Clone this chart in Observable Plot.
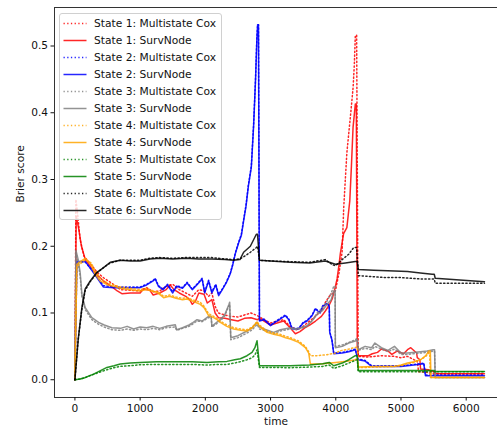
<!DOCTYPE html>
<html>
<head>
<meta charset="utf-8">
<script src="https://cdn.jsdelivr.net/npm/d3@7"></script>
<script src="https://cdn.jsdelivr.net/npm/@observablehq/plot@0.6"></script>
<style>
  body { margin: 0; background: white; }
  #wrap { position: relative; width: 497px; height: 428px; overflow: hidden; font-family: "DejaVu Sans", sans-serif; }
  #legend { position: absolute; left: 59px; top: 13px; width: 163px; height: 207px; box-sizing: border-box;
            border: 1px solid #d0d0d0; border-radius: 3px; background: rgba(255,255,255,0.8); }
  .row { position: absolute; left: 0; height: 17px; width: 160px; }
  .row svg { position: absolute; left: 2px; top: 0; }
  .row span { position: absolute; left: 34px; top: 0; line-height: 17px; font-size: 10.7px; color: #111; white-space: nowrap; }
</style>
</head>
<body>
<div id="wrap"></div>
<script>
// ---- data (time, Brier score) ----
const s1Cox = [[0,0],[15,0.27],[40,0.25],[80,0.21],[140,0.185],[250,0.172],[350,0.16],[450,0.152],[560,0.145],[700,0.135],[850,0.134],[1000,0.133],[1100,0.138],[1200,0.132],[1300,0.133],[1400,0.14],[1500,0.143],[1600,0.135],[1700,0.13],[1800,0.125],[1850,0.13],[1900,0.135],[1980,0.133],[2050,0.125],[2100,0.13],[2150,0.11],[2200,0.1],[2300,0.097],[2400,0.095],[2500,0.094],[2600,0.097],[2700,0.1],[2800,0.096],[2900,0.09],[3000,0.085],[3100,0.088],[3200,0.09],[3300,0.08],[3400,0.075],[3500,0.08],[3600,0.088],[3700,0.096],[3800,0.106],[3840,0.116],[3900,0.125],[3994,0.133],[4050,0.16],[4097,0.191],[4122,0.258],[4170,0.34],[4230,0.4],[4266,0.438],[4285,0.473],[4300,0.516],[4320,0.516],[4335,0.22],[4345,0.035],[4500,0.034],[4700,0.036],[4900,0.035],[5000,0.033],[5100,0.035],[5200,0.03],[5250,0.028],[5270,0.012],[5400,0.011],[5500,0.009],[6280,0.009]];
const s1Surv = [[0,0],[20,0.245],[60,0.225],[100,0.2],[160,0.18],[250,0.168],[330,0.158],[450,0.147],[560,0.14],[650,0.133],[720,0.129],[850,0.13],[1000,0.13],[1050,0.136],[1150,0.134],[1200,0.127],[1300,0.13],[1400,0.135],[1460,0.142],[1520,0.135],[1600,0.13],[1700,0.125],[1760,0.12],[1800,0.113],[1850,0.118],[1900,0.13],[1980,0.128],[2030,0.115],[2100,0.12],[2150,0.1],[2200,0.093],[2300,0.092],[2400,0.09],[2500,0.088],[2600,0.092],[2700,0.093],[2800,0.09],[2830,0.092],[2900,0.088],[3000,0.082],[3100,0.085],[3200,0.088],[3300,0.078],[3380,0.069],[3450,0.072],[3530,0.078],[3600,0.082],[3690,0.088],[3780,0.095],[3840,0.103],[3900,0.112],[3945,0.121],[3990,0.138],[4020,0.151],[4050,0.172],[4070,0.189],[4120,0.219],[4170,0.228],[4215,0.268],[4240,0.32],[4265,0.378],[4300,0.413],[4315,0.413],[4330,0.05],[4345,0.036],[4500,0.036],[4560,0.039],[4640,0.041],[4700,0.046],[4800,0.043],[4860,0.038],[4940,0.043],[5040,0.039],[5100,0.045],[5150,0.048],[5240,0.04],[5250,0.033],[5290,0.03],[5300,0.016],[5420,0.015],[5500,0.012],[5550,0.009],[6280,0.009]];
const s2Cox = [[0,0],[30,0.176],[160,0.176],[250,0.166],[337,0.155],[437,0.141],[600,0.139],[800,0.139],[1000,0.139],[1100,0.143],[1200,0.149],[1232,0.152],[1280,0.141],[1350,0.136],[1420,0.143],[1500,0.132],[1560,0.141],[1650,0.138],[1720,0.146],[1800,0.136],[1880,0.144],[1950,0.152],[1990,0.132],[2050,0.149],[2100,0.132],[2160,0.143],[2204,0.128],[2260,0.136],[2320,0.146],[2383,0.16],[2420,0.173],[2460,0.19],[2510,0.206],[2552,0.218],[2587,0.24],[2624,0.262],[2660,0.292],[2705,0.32],[2740,0.382],[2770,0.452],[2790,0.512],[2802,0.532],[2815,0.532],[2830,0.089],[2900,0.091],[3000,0.082],[3100,0.089],[3227,0.097],[3280,0.091],[3330,0.077],[3430,0.077],[3500,0.086],[3560,0.089],[3637,0.097],[3687,0.107],[3760,0.101],[3800,0.111],[3866,0.115],[3900,0.111],[3907,0.072],[3940,0.061],[3969,0.04],[4100,0.041],[4200,0.043],[4300,0.046],[4340,0.031],[4450,0.029],[4550,0.021],[4800,0.021],[5000,0.021],[5200,0.023],[5350,0.025],[5375,0.007],[6280,0.007]];
const s2Surv = [[0,0],[30,0.177],[160,0.177],[250,0.165],[337,0.153],[437,0.139],[600,0.138],[800,0.138],[1000,0.138],[1100,0.142],[1200,0.148],[1232,0.151],[1280,0.14],[1350,0.135],[1420,0.142],[1500,0.13],[1560,0.14],[1650,0.137],[1720,0.145],[1800,0.135],[1880,0.143],[1950,0.151],[1990,0.13],[2050,0.148],[2100,0.13],[2160,0.142],[2204,0.126],[2260,0.135],[2320,0.145],[2383,0.159],[2420,0.172],[2460,0.189],[2510,0.205],[2552,0.216],[2587,0.238],[2624,0.26],[2660,0.29],[2705,0.318],[2740,0.38],[2770,0.45],[2790,0.51],[2802,0.532],[2815,0.532],[2830,0.088],[2900,0.09],[3000,0.081],[3100,0.088],[3227,0.096],[3280,0.09],[3330,0.076],[3430,0.076],[3500,0.085],[3560,0.088],[3637,0.096],[3687,0.106],[3760,0.1],[3800,0.11],[3866,0.114],[3900,0.11],[3907,0.071],[3940,0.06],[3969,0.039],[4100,0.04],[4200,0.042],[4300,0.045],[4340,0.03],[4450,0.028],[4550,0.02],[4800,0.02],[5000,0.02],[5200,0.022],[5350,0.024],[5375,0.006],[6280,0.006]];
const s3Cox = [[0,0],[15,0.19],[50,0.175],[81,0.155],[107,0.125],[158,0.105],[260,0.09],[363,0.083],[450,0.079],[567,0.075],[700,0.074],[800,0.076],[900,0.074],[1000,0.076],[1100,0.075],[1200,0.077],[1300,0.075],[1400,0.078],[1539,0.079],[1560,0.074],[1650,0.077],[1750,0.08],[1800,0.083],[1872,0.088],[1950,0.087],[2050,0.093],[2090,0.094],[2100,0.079],[2160,0.083],[2250,0.09],[2300,0.096],[2363,0.111],[2373,0.113],[2390,0.06],[2500,0.063],[2640,0.07],[2720,0.075],[2793,0.083],[2830,0.076],[2900,0.074],[3048,0.069],[3150,0.073],[3304,0.076],[3400,0.075],[3560,0.08],[3650,0.09],[3713,0.1],[3800,0.108],[3867,0.118],[3930,0.13],[3969,0.14],[3990,0.14],[3994,0.05],[4100,0.052],[4200,0.056],[4300,0.06],[4330,0.062],[4345,0.044],[4450,0.047],[4550,0.045],[4600,0.05],[4700,0.046],[4800,0.042],[4900,0.046],[5000,0.038],[5100,0.038],[5300,0.04],[5400,0.041],[5493,0.043],[5515,0.043],[5525,0.0035],[6280,0.0035]];
const s3Surv = [[0,0],[15,0.194],[50,0.18],[81,0.16],[107,0.128],[158,0.108],[260,0.093],[363,0.086],[450,0.082],[567,0.078],[700,0.077],[800,0.08],[900,0.076],[1000,0.079],[1100,0.078],[1200,0.08],[1300,0.077],[1400,0.08],[1539,0.0825],[1560,0.075],[1650,0.078],[1750,0.082],[1800,0.085],[1872,0.09],[1950,0.088],[2050,0.095],[2090,0.095],[2100,0.08],[2160,0.085],[2250,0.092],[2300,0.098],[2363,0.113],[2373,0.116],[2390,0.063],[2500,0.066],[2640,0.073],[2720,0.078],[2793,0.086],[2830,0.079],[2900,0.076],[3048,0.071],[3150,0.075],[3304,0.078],[3400,0.076],[3560,0.081],[3650,0.09],[3713,0.098],[3800,0.104],[3867,0.113],[3930,0.12],[3969,0.133],[3990,0.133],[3994,0.048],[4100,0.05],[4200,0.055],[4300,0.058],[4330,0.06],[4345,0.045],[4450,0.05],[4550,0.048],[4600,0.055],[4700,0.048],[4800,0.044],[4900,0.05],[5000,0.04],[5100,0.04],[5300,0.042],[5400,0.043],[5493,0.045],[5515,0.045],[5525,0.0035],[6280,0.0035]];
const s4Cox = [[0,0],[30,0.17],[100,0.175],[158,0.18],[250,0.175],[300,0.165],[388,0.152],[500,0.145],[600,0.142],[697,0.139],[850,0.137],[1000,0.135],[1100,0.137],[1200,0.133],[1258,0.132],[1300,0.13],[1360,0.125],[1450,0.127],[1550,0.124],[1650,0.122],[1718,0.123],[1800,0.12],[1923,0.116],[1980,0.11],[2050,0.099],[2127,0.095],[2180,0.092],[2230,0.088],[2330,0.082],[2434,0.078],[2540,0.076],[2640,0.075],[2720,0.079],[2793,0.087],[2830,0.082],[2946,0.073],[3048,0.07],[3150,0.068],[3230,0.065],[3304,0.063],[3431,0.058],[3534,0.05],[3585,0.042],[3611,0.036],[3700,0.036],[3867,0.0375],[4000,0.04],[4071,0.0435],[4200,0.046],[4275,0.048],[4330,0.049],[4345,0.018],[4600,0.019],[4900,0.02],[5000,0.021],[5100,0.024],[5200,0.026],[5300,0.03],[5380,0.035],[5426,0.04],[5440,0.04],[5450,0.0035],[6280,0.0035]];
const s4Surv = [[0,0],[30,0.173],[100,0.178],[158,0.182],[250,0.172],[300,0.16],[388,0.148],[500,0.142],[600,0.14],[697,0.137],[850,0.135],[1000,0.133],[1100,0.135],[1200,0.132],[1258,0.131],[1300,0.128],[1360,0.123],[1450,0.125],[1550,0.122],[1650,0.12],[1718,0.121],[1800,0.118],[1923,0.113],[1980,0.108],[2050,0.096],[2127,0.093],[2180,0.09],[2230,0.086],[2330,0.08],[2434,0.076],[2540,0.074],[2640,0.073],[2720,0.078],[2793,0.086],[2830,0.08],[2946,0.071],[3048,0.068],[3150,0.066],[3230,0.063],[3304,0.061],[3431,0.056],[3534,0.048],[3585,0.04],[3611,0.0235],[3800,0.024],[4000,0.026],[4200,0.028],[4300,0.03],[4330,0.032],[4345,0.019],[4600,0.02],[4900,0.02],[5000,0.022],[5100,0.025],[5200,0.027],[5300,0.03],[5380,0.036],[5426,0.043],[5450,0.043],[5460,0.0035],[6280,0.0035]];
const s5Cox = [[0,0],[81,0.001],[150,0.003],[200,0.005],[286,0.008],[400,0.012],[491,0.015],[600,0.018],[695,0.02],[850,0.021],[1000,0.0225],[1250,0.023],[1513,0.023],[1800,0.023],[2025,0.022],[2200,0.023],[2332,0.023],[2450,0.025],[2537,0.027],[2639,0.03],[2716,0.033],[2760,0.037],[2793,0.045],[2830,0.0185],[3000,0.0185],[3300,0.018],[3600,0.019],[3800,0.02],[3900,0.022],[3969,0.017],[4100,0.021],[4200,0.025],[4300,0.029],[4330,0.03],[4345,0.012],[5000,0.012],[5500,0.012],[6280,0.012]];
const s5Surv = [[0,0],[81,0.001],[150,0.003],[200,0.005],[286,0.0085],[400,0.014],[491,0.0185],[600,0.021],[695,0.0235],[850,0.025],[1000,0.026],[1250,0.027],[1513,0.027],[1800,0.027],[2025,0.026],[2200,0.027],[2332,0.0275],[2450,0.03],[2537,0.0315],[2639,0.036],[2716,0.041],[2760,0.048],[2793,0.0585],[2830,0.021],[3000,0.021],[3300,0.021],[3600,0.022],[3800,0.024],[3900,0.026],[3969,0.021],[4100,0.025],[4200,0.03],[4300,0.036],[4330,0.036],[4345,0.014],[5000,0.014],[5500,0.014],[5525,0.0125],[6280,0.0125]];
const s6Cox = [[0,0],[50,0.06],[107,0.106],[158,0.134],[235,0.147],[337,0.16],[439,0.168],[542,0.175],[695,0.179],[850,0.179],[1000,0.179],[1150,0.182],[1300,0.183],[1500,0.182],[1700,0.183],[1900,0.183],[2100,0.183],[2300,0.181],[2434,0.18],[2530,0.181],[2600,0.185],[2690,0.191],[2782,0.198],[2800,0.2],[2830,0.179],[3000,0.178],[3300,0.177],[3600,0.176],[3841,0.18],[3950,0.172],[4000,0.171],[4097,0.18],[4198,0.188],[4275,0.198],[4320,0.198],[4345,0.156],[4761,0.153],[5000,0.153],[5298,0.151],[5478,0.151],[5510,0.151],[5525,0.1445],[6280,0.1445]];
const s6Surv = [[0,0],[50,0.06],[107,0.108],[158,0.136],[235,0.148],[337,0.161],[439,0.168],[542,0.176],[695,0.179],[850,0.178],[1000,0.178],[1150,0.181],[1300,0.182],[1500,0.181],[1700,0.182],[1900,0.181],[2100,0.181],[2300,0.18],[2434,0.179],[2530,0.18],[2587,0.191],[2690,0.2],[2782,0.218],[2800,0.218],[2830,0.179],[3000,0.178],[3300,0.176],[3600,0.175],[3841,0.178],[3994,0.173],[4148,0.175],[4300,0.177],[4330,0.177],[4345,0.165],[4582,0.164],[4900,0.163],[5100,0.162],[5298,0.16],[5478,0.158],[5510,0.158],[5525,0.152],[6280,0.147]];

const seriesNames = ["State 1: Multistate Cox","State 1: SurvNode","State 2: Multistate Cox","State 2: SurvNode","State 3: Multistate Cox","State 3: SurvNode","State 4: Multistate Cox","State 4: SurvNode","State 5: Multistate Cox","State 5: SurvNode","State 6: Multistate Cox","State 6: SurvNode"];
const seriesData = [s1Cox, s1Surv, s2Cox, s2Surv, s3Cox, s3Surv, s4Cox, s4Surv, s5Cox, s5Surv, s6Cox, s6Surv];
const stateColors = ["#ff0000","#0000ff","#808080","#ffa500","#008000","#000000"];
const xTicks = [0, 1000, 2000, 3000, 4000, 5000, 6000];
const yTicks = [0.0, 0.1, 0.2, 0.3, 0.4, 0.5];

// ---- build ----
const xDomain = [-313, 6480];
const yDomain = [-0.0266, 0.5577];
const dotted = "1.3,2.4";

const series = seriesNames.map((name, i) => ({
  name,
  color: stateColors[Math.floor(i / 2)],
  dash: i % 2 === 0 ? dotted : null,
  rows: seriesData[i].map(([t, v]) => ({t, v}))
}));

const marks = series.map(s => Plot.line(s.rows, {
  x: "t", y: "v", stroke: s.color, strokeWidth: 1.5, strokeOpacity: 0.85,
  strokeDasharray: s.dash ?? undefined
}));

const chart = Plot.plot({
  width: 497, height: 428,
  marginLeft: 54, marginRight: 0, marginTop: 7, marginBottom: 31,
  style: {fontFamily: "DejaVu Sans", fontSize: "10.6px", color: "#111", background: "white"},
  x: {domain: xDomain},
  y: {domain: yDomain},
  marks: [
    ...marks,
    Plot.ruleX([xDomain[0]], {stroke: "#333", strokeWidth: 1}),
    Plot.ruleY([yDomain[0], yDomain[1]], {stroke: "#333", strokeWidth: 1}),
    Plot.axisX({ticks: xTicks, tickSize: 3.5, tickPadding: 3, tickFormat: d3.format("d"), label: null, fontSize: 10.6}),
    Plot.axisY({ticks: yTicks, tickSize: 3.5, tickPadding: 3, tickFormat: d3.format(".1f"), label: null, fontSize: 10.6}),
    Plot.text(["time"], {frameAnchor: "bottom", dy: 27, fontSize: 10.6, fill: "#111"}),
    Plot.text(["Brier score"], {frameAnchor: "left", dx: -34, rotate: -90, fontSize: 10.6, fill: "#111"})
  ]
});

const wrap = document.getElementById("wrap");
wrap.appendChild(chart);

const legend = document.createElement("div");
legend.id = "legend";
series.forEach((s, i) => {
  const row = document.createElement("div");
  row.className = "row";
  row.style.top = (0.5 + i * 17) + "px";
  const svg = d3.create("svg").attr("width", 28).attr("height", 17);
  svg.append("line").attr("x1", 1.5).attr("x2", 24.5).attr("y1", 8.5).attr("y2", 8.5)
    .attr("stroke", s.color).attr("stroke-width", 1.5).attr("stroke-opacity", 0.85)
    .attr("stroke-dasharray", s.dash);
  row.appendChild(svg.node());
  const span = document.createElement("span");
  span.textContent = s.name;
  row.appendChild(span);
  legend.appendChild(row);
});
wrap.appendChild(legend);
</script>
</body>
</html>
